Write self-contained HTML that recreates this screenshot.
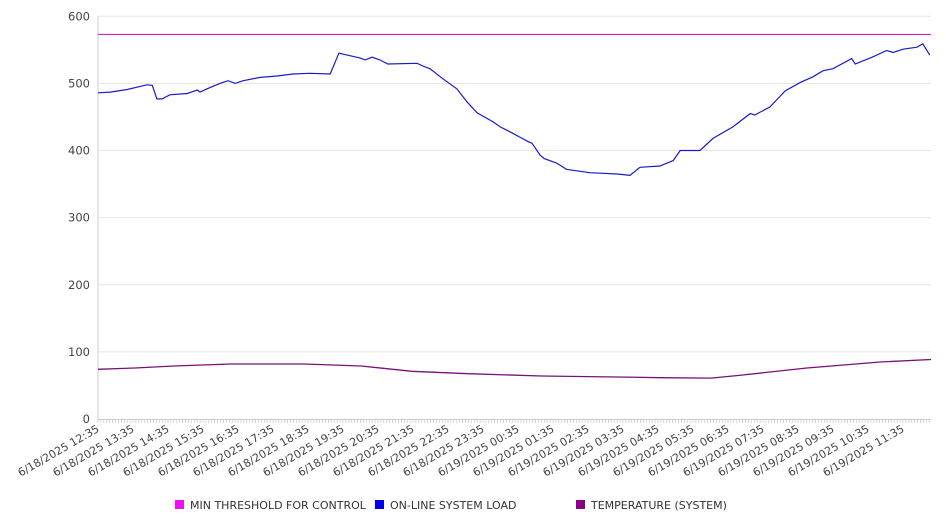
<!DOCTYPE html>
<html><head><meta charset="utf-8"><style>
body{margin:0;background:#fff;font-family:"DejaVu Sans","Liberation Sans",sans-serif}
</style></head><body>
<svg id="chart" width="946" height="526" xmlns="http://www.w3.org/2000/svg" style="display:block;font-family:'DejaVu Sans','Liberation Sans',sans-serif"></svg>
<script>
const loadMinutes=[0,21,50,84,93,101,110,123,153,170,175,187,209,223,235,249,278,307,334,363,398,413,449,458,470,483,497,547,557,569,591,615,633,650,677,690,706,723,738,744,758,765,787,803,843,890,912,929,963,986,998,1032,1054,1088,1118,1126,1152,1178,1203,1226,1243,1260,1292,1298,1327,1352,1363,1380,1404,1414,1426];
const loadValues=[486,487,491,498,497,477,477,483,485,490,487,492,500,504,500,504,509,511,514,515,514,545,538,535,539,535,529,530,526,522,507,492,472,456,443,435,428,420,413,411,393,388,381,372,367,365,363,375,377,385,400,400,418,435,455,453,465,489,501,510,519,522,537,529,539,549,546,551,554,559,542];
const tempMinutes=[0,63,130,228,353,451,538,634,760,905,963,1051,1099,1215,1341,1428];
const tempValues=[74,76,79,82,82,79,71,67.5,64,62.5,61.5,61,65,76,85,88.6];
const thresholdValue=573;
const yTicks=[0,100,200,300,400,500,600];
const xLabels=["6/18/2025 12:35","6/18/2025 13:35","6/18/2025 14:35","6/18/2025 15:35","6/18/2025 16:35","6/18/2025 17:35","6/18/2025 18:35","6/18/2025 19:35","6/18/2025 20:35","6/18/2025 21:35","6/18/2025 22:35","6/18/2025 23:35","6/19/2025 00:35","6/19/2025 01:35","6/19/2025 02:35","6/19/2025 03:35","6/19/2025 04:35","6/19/2025 05:35","6/19/2025 06:35","6/19/2025 07:35","6/19/2025 08:35","6/19/2025 09:35","6/19/2025 10:35","6/19/2025 11:35"];
const X0=98,X1=931,MAXMIN=1428,Y0=419,Y600=16.3;
const xs=m=>X0+m*(X1-X0)/MAXMIN;
const ys=v=>Y0-v*(Y0-Y600)/600;
const svg=document.getElementById('chart');
const NS='http://www.w3.org/2000/svg';
function mk(t,a,p){const e=document.createElementNS(NS,t);for(const k in a)e.setAttribute(k,a[k]);(p||svg).appendChild(e);return e;}
yTicks.forEach(v=>{
  if(v>0){const g=mk('line',{x1:X0,x2:X1,y1:ys(v),y2:ys(v),stroke:'#e6e6e6','stroke-width':1});
  
  }
  const t=mk('text',{x:X0-8,y:ys(v)+4,'text-anchor':'end','font-size':11.5,fill:'#444'});
  t.textContent=v;
  
  
});
const ax=mk('line',{x1:X0,x2:X0,y1:Y600,y2:Y0,stroke:'#ccc'});


const bx=mk('line',{x1:X0,x2:X1,y1:Y0+0.5,y2:Y0+0.5,stroke:'#ccc'});


let tp='';for(let m=0;m<=MAXMIN;m+=5){const x=xs(m).toFixed(1);tp+=`M${x} ${Y0}V${Y0+4}`;}
const tk=mk('path',{d:tp,stroke:'#ccc','stroke-width':0.8,fill:'none'});


xLabels.forEach((l,i)=>{
  const x=xs(i*60);
  const t=mk('text',{x:x+2,y:Y0+12,'text-anchor':'end','font-size':11,fill:'#444',transform:`rotate(-30 ${x+2} ${Y0+12})`});
  t.textContent=l;
  
  
});
const th=mk('line',{x1:X0,x2:X1,y1:ys(thresholdValue),y2:ys(thresholdValue),stroke:'#cc22cc','stroke-width':1.2});


const lp=mk('polyline',{points:loadMinutes.map((m,i)=>xs(m).toFixed(1)+','+ys(loadValues[i]).toFixed(1)).join(' '),fill:'none',stroke:'#1a1acc','stroke-width':1.2});


const tl=mk('polyline',{points:tempMinutes.map((m,i)=>xs(m).toFixed(1)+','+ys(tempValues[i]).toFixed(1)).join(' '),fill:'none',stroke:'#771177','stroke-width':1.3});


const leg=[['MIN THRESHOLD FOR CONTROL','#ee11ee',175],['ON-LINE SYSTEM LOAD','#0000ee',375],['TEMPERATURE (SYSTEM)','#880088',576]];
leg.forEach(([n,c,x])=>{
  const g=mk('g',{});
  
  
  mk('rect',{x:x,y:500,width:9,height:9,fill:c},g);
  const t=mk('text',{x:x+15,y:509,'font-size':11,fill:'#333'},g);
  t.textContent=n;
});
</script>
</body></html>
